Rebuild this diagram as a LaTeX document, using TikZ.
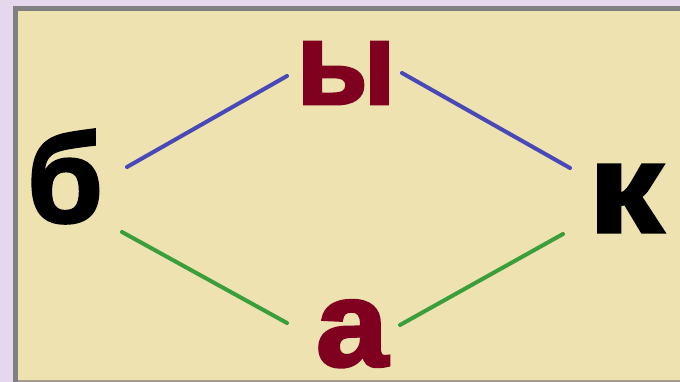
\documentclass[tikz,border=0pt]{standalone}
\usepackage{fontspec}
\setmainfont{Liberation Sans}[BoldFeatures={FakeBold=2.5}]
\definecolor{bgout}{HTML}{E6D8EC}
\definecolor{panel}{HTML}{EDE2B0}
\definecolor{frame}{HTML}{808080}
\definecolor{wine}{HTML}{800020}
\definecolor{lblue}{HTML}{4848B8}
\definecolor{lgreen}{HTML}{3A9E3A}
\tikzset{
  letter/.style={inner sep=0pt, anchor=base, text depth=0pt, font=\fontsize{122}{122}\selectfont\bfseries},
  link/.style={line width=4pt, line cap=round}
}
\begin{document}
\begin{tikzpicture}[x=1pt,y=-1pt]
\useasboundingbox (0,0) rectangle (680,382);
\fill[bgout] (0,0) rectangle (680,382);
\fill[frame] (13,6) rectangle (690,392);
\fill[panel] (18,11) rectangle (690,380);
\fill[frame!70!panel] (18,380) rectangle (690,382);
\node[letter, text=black, yscale=1.03] (b) at (65,222) {б};
\node[letter, text=black, xscale=1.22, yscale=1.04] (k) at (626,232) {к};
\node[letter, text=wine, xscale=0.95, yscale=0.96] (y) at (346,104) {ы};
\node[letter, text=wine, xscale=1.06] (a) at (352,366) {а};
\coordinate (b1) at (127,167);
\coordinate (y1) at (287,76);
\coordinate (y2) at (402,73);
\coordinate (k1) at (570,168);
\coordinate (b2) at (122,232);
\coordinate (a1) at (287,323);
\coordinate (a2) at (400,325);
\coordinate (k2) at (563,234);
\draw[link, lblue] (b1) -- (y1);
\draw[link, lblue] (y2) -- (k1);
\draw[link, lgreen] (b2) -- (a1);
\draw[link, lgreen] (a2) -- (k2);
\end{tikzpicture}
\end{document}
